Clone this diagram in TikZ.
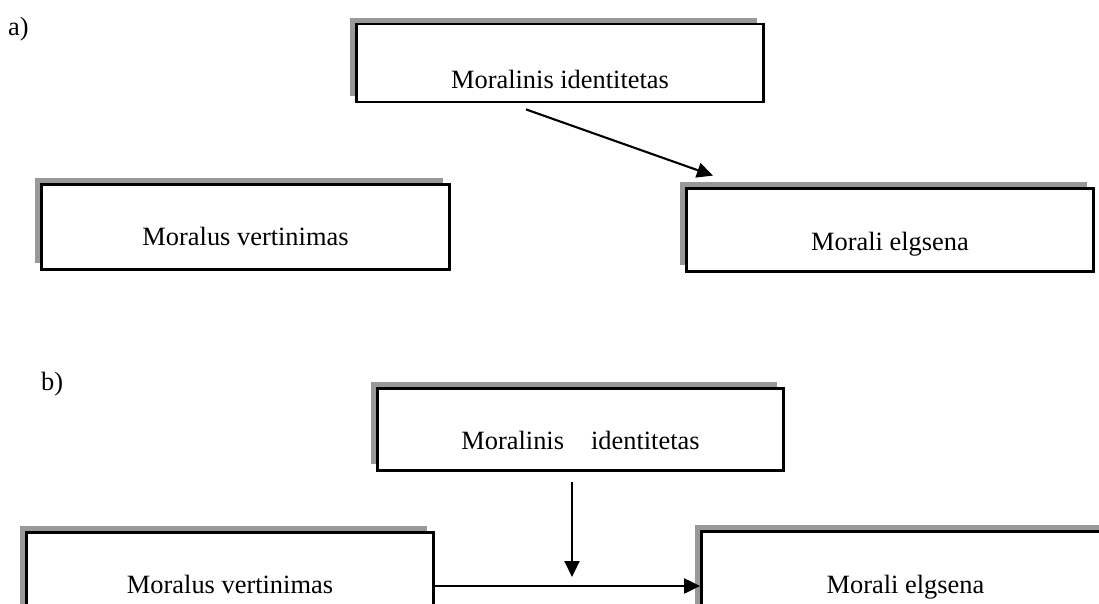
\documentclass[tikz,border=0pt]{standalone}
\usepackage{fontspec}
\setmainfont{Liberation Serif}
\usetikzlibrary{arrows.meta,shadows}
% place a label so that its baseline sits #1pt below the box centre
\newcommand{\lowtext}[2]{\raisebox{-#1pt}[0pt][0pt]{#2}}

\tikzset{
  framebox/.style={draw=black, line width=2.8pt, fill=white, inner sep=0pt,
    drop shadow={shadow xshift=-6.5pt, shadow yshift=6.5pt, fill=black!40, opacity=1}},
  link/.style={line width=2.1pt, -{Triangle[length=16pt,width=15pt]}},
  tag/.style={inner sep=0pt, anchor=base west},
}

\begin{document}
\begin{tikzpicture}[x=1pt, y=-1pt, font=\fontsize{26.4}{30}\selectfont]
\clip (0,0) rectangle (1099,603);

% part a)
\node[tag] (la) at (8,35) {a)};
\node[framebox, minimum width=407pt, minimum height=78pt] (m1) at (560,63)
  {\lowtext{25}{Moralinis identitetas}};
\node[framebox, minimum width=408pt, minimum height=85pt] (m2) at (245.5,227)
  {\lowtext{18}{Moralus vertinimas}};
\node[framebox, minimum width=407pt, minimum height=83pt] (m3) at (890,230)
  {\lowtext{20}{Morali elgsena}};
\draw[link] ([xshift=-34pt,yshift=-6pt]m1.south) -- ([xshift=-177pt,yshift=11.5pt]m3.north);

% part b)
\node[tag] (lb) at (41,390) {b)};
\node[framebox, minimum width=406pt, minimum height=82pt] (m4) at (580.5,429.5)
  {\lowtext{19.5}{Moralinis\hspace{27pt}identitetas}};
\node[framebox, minimum width=407pt, minimum height=85pt] (m5) at (230,575)
  {\lowtext{18}{Moralus vertinimas}};
\node[framebox, minimum width=408pt, minimum height=85pt] (m6) at (905.5,574)
  {\lowtext{19}{Morali elgsena}};
\coordinate (meet) at (572,577);
\draw[link] ([yshift=-11pt]m5.east) -- ([yshift=-12pt]m6.west);
\draw[link] ([xshift=-8.5pt,yshift=-10.5pt]m4.south) -- (meet);
\end{tikzpicture}
\end{document}
